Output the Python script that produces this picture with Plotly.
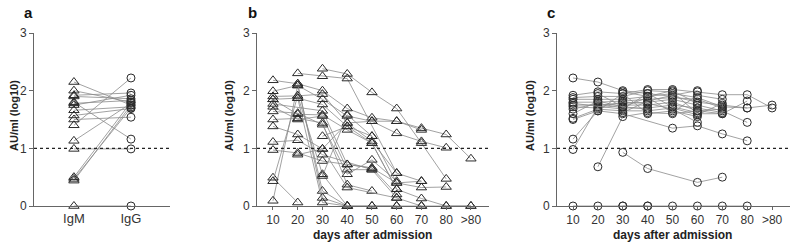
import plotly.graph_objects as go

N = None
# ---------- Panel a: IgM vs IgG pairs ----------
groups_a = ["IgM", "IgG"]
igm = [2.15, 2.00, 1.92, 1.90, 1.80, 1.78, 1.75, 1.66, 1.57, 1.50, 1.40, 1.13, 0.99, 0.50, 0.47, 0.44, 0.00]
igg = [1.75, 1.80, 1.96, 1.86, 1.16, 1.83, 1.92, 1.72, 1.69, 1.54, 2.22, 1.78, 0.99, 1.80, 1.70, 1.75, 0.00]

# ---------- Panel b / c: time courses ----------
days = ["10", "20", "30", "40", "50", "60", "70", "80", ">80"]
igm_series = [
    [2.18, 2.12, 2.00, 1.69, 1.53, 1.47, 1.35, 1.24, 0.82],
    [N, N, 2.38, 2.29, 1.97, 1.69, 1.09, 0.47, N],
    [N, 2.30, 2.25, 2.21, N, 0.57, 0.43, N, N],
    [1.99, 2.09, 1.85, 1.56, 1.47, 1.26, 1.12, 1.01, N],
    [1.90, 1.91, 1.94, 1.44, 1.12, 0.57, N, N, N],
    [1.85, 1.87, 1.76, 1.38, 1.21, 0.40, 0.32, 0.33, N],
    [1.85, 1.59, 1.58, 1.32, 1.09, 0.29, 0.13, 0.00, 0.00],
    [1.77, N, 1.65, 0.72, 0.66, 0.20, N, N, N],
    [1.72, 1.50, 1.56, 0.63, 0.63, 0.14, 0.00, N, N],
    [1.64, 1.61, 1.41, 0.55, 0.80, 0.43, N, N, N],
    [1.50, 1.52, 1.44, 0.37, 0.26, N, N, N, N],
    [1.38, 1.24, 0.99, 0.32, N, 0.14, N, N, N],
    [1.11, 1.14, 0.89, N, 0.63, N, N, N, N],
    [0.97, 0.92, 0.78, 0.72, 0.66, 0.40, 0.43, N, N],
    [0.09, 2.09, 0.26, 0.00, N, N, N, N, N],
    [0.49, 0.06, N, N, N, N, N, N, N],
    [0.43, 1.91, 0.55, 0.00, 0.00, 0.00, N, N, N],
    [N, 0.89, 0.99, 1.44, 1.47, 1.47, 1.32, N, N],
    [N, 2.12, 0.14, 0.00, N, N, N, N, N],
    [N, 1.87, 0.06, 0.00, 0.00, 0.00, 0.00, 0.00, 0.00],
    [N, N, 0.52, 1.58, 1.21, N, N, N, N],
    [N, N, 1.21, 1.38, 1.09, 0.29, N, N, N],
]
igg_series = [
    [2.22, 2.15, 2.00, 1.95, 1.90, 1.80, 1.75, 1.70, 1.75],
    [1.92, 1.98, 1.95, 2.02, 2.02, 1.98, 1.93, 1.93, 1.70],
    [1.88, 1.90, 1.90, 2.00, 1.98, 1.60, 1.60, 1.82, N],
    [1.85, 1.85, 1.85, 1.90, 1.95, 1.88, 1.72, 1.70, N],
    [1.80, 1.80, 1.82, 1.85, 1.88, 1.85, 1.70, N, N],
    [1.75, 1.75, 1.78, 1.80, 1.85, 1.75, 1.65, 1.45, N],
    [1.72, 1.70, 1.75, 1.75, 1.80, 1.65, 1.68, N, N],
    [1.68, 1.78, 1.70, 1.70, 1.75, 1.70, 1.62, N, N],
    [1.52, 1.68, 1.65, 1.65, 1.70, 1.58, 1.78, N, N],
    [1.50, 1.65, 1.95, 1.60, 1.65, 1.55, N, N, N],
    [1.16, 1.65, 1.60, N, 1.35, 1.39, 1.25, 1.13, N],
    [0.98, 1.72, 1.80, 1.78, 1.68, 1.45, N, N, N],
    [N, 0.68, 1.55, 1.62, 1.60, 1.65, 1.60, N, N],
    [N, N, 0.93, 0.65, N, 0.41, 0.50, N, N],
    [0.00, 0.00, 0.00, 0.00, 0.00, 0.00, 0.00, 0.00, N],
    [N, 1.95, 1.72, 1.88, 1.62, 1.92, 1.85, N, N],
    [1.78, N, 1.68, 1.95, 1.72, 1.62, N, N, N],
    [N, N, 1.98, 1.90, 2.00, 1.78, N, N, N],
    [N, N, 1.62, 1.82, 1.92, 2.00, N, N, N],
    [1.60, 1.82, 1.72, 1.68, N, N, N, N, N],
    [N, N, 0.00, 0.00, N, N, N, N, N],
]

yticks = [0, 1, 2, 3]
FONT = "Liberation Sans, Arial, sans-serif"
LINE_C = "#8a8a8a"
MK_C = "#2b2b2b"
AX_C = "#666666"

fig = go.Figure()

# Panel a
for m, g in zip(igm, igg):
    fig.add_trace(go.Scatter(x=[0, 1], y=[m, g], mode="lines",
                             line=dict(color=LINE_C, width=0.8),
                             xaxis="x", yaxis="y", showlegend=False, hoverinfo="skip"))
fig.add_trace(go.Scatter(x=[0] * len(igm), y=igm, mode="markers",
                         marker=dict(symbol="triangle-up-open", size=9, color=MK_C, line=dict(width=1)),
                         xaxis="x", yaxis="y", showlegend=False, cliponaxis=False))
fig.add_trace(go.Scatter(x=[1] * len(igg), y=igg, mode="markers",
                         marker=dict(symbol="circle-open", size=8, color=MK_C, line=dict(width=1)),
                         xaxis="x", yaxis="y", showlegend=False, cliponaxis=False))

xpos = list(range(1, len(days) + 1))


def add_series(series, sym, size, xa, ya):
    for s in series:
        xs = [x for x, v in zip(xpos, s) if v is not None]
        ys = [v for v in s if v is not None]
        fig.add_trace(go.Scatter(x=xs, y=ys, mode="lines+markers",
                                 line=dict(color=LINE_C, width=0.8),
                                 marker=dict(symbol=sym, size=size, color=MK_C, line=dict(width=1)),
                                 xaxis=xa, yaxis=ya, showlegend=False, cliponaxis=False))


add_series(igm_series, "triangle-up-open", 9, "x2", "y2")
add_series(igg_series, "circle-open", 8, "x3", "y3")

W, H = 791, 243
ydom = [(243 - 206) / H, (243 - 33) / H]

common_y = dict(range=[0, 3], tickvals=yticks, ticks="outside", ticklen=4, tickwidth=1,
                tickcolor=AX_C, showline=True, linecolor=AX_C, linewidth=1,
                showgrid=False, zeroline=False, domain=ydom, automargin=False,
                tickfont=dict(family=FONT, size=12, color="#333333"))
common_x = dict(showline=True, linecolor=AX_C, linewidth=1, showgrid=False, zeroline=False,
                automargin=False)

fig.update_layout(
    width=W, height=H, margin=dict(l=0, r=0, t=0, b=0, autoexpand=False),
    paper_bgcolor="white", plot_bgcolor="white",
    xaxis=dict(**common_x, domain=[34 / W, 170 / W], range=[-0.70, 1.684],
               tickvals=[0, 1], ticktext=groups_a, ticks="", anchor="y",
               tickfont=dict(family=FONT, size=13, color="#333333")),
    yaxis=dict(**common_y, anchor="x"),
    xaxis2=dict(**common_x, domain=[257 / W, 489 / W], range=[0.354, 9.73],
                tickvals=xpos, ticktext=days, ticks="outside", ticklen=3, tickcolor=AX_C, anchor="y2",
                tickfont=dict(family=FONT, size=12, color="#333333")),
    yaxis2=dict(**common_y, anchor="x2"),
    xaxis3=dict(**common_x, domain=[557 / W, 790 / W], range=[0.357, 9.72],
                tickvals=xpos, ticktext=days, ticks="outside", ticklen=3, tickcolor=AX_C, anchor="y3",
                tickfont=dict(family=FONT, size=12, color="#333333")),
    yaxis3=dict(**common_y, anchor="x3"),
)

# dashed threshold lines
for xr, yr in [("x", "y"), ("x2", "y2"), ("x3", "y3")]:
    fig.add_shape(type="line", xref=f"{xr} domain", yref=yr, x0=0, x1=1, y0=1, y1=1,
                  line=dict(color="#222222", width=1.2, dash="dot"))

ann = []
for lab, x in [("a", 28 / W), ("b", 252 / W), ("c", 551 / W)]:
    ann.append(dict(text=f"<b>{lab}</b>", x=x, y=1 - 12 / H, xref="paper", yref="paper",
                    showarrow=False, xanchor="center", yanchor="middle",
                    font=dict(family=FONT, size=15, color="#111111")))
for x in [14 / W, 229 / W, 530 / W]:
    ann.append(dict(text="<b>AU/ml (log10)</b>", x=x, y=1 - 116 / H, xref="paper", yref="paper",
                    textangle=-90, showarrow=False, xanchor="center", yanchor="middle",
                    font=dict(family=FONT, size=11, color="#222222")))
for x in [372 / W, 672 / W]:
    ann.append(dict(text="<b>days after admission</b>", x=x, y=1 - 235 / H, xref="paper", yref="paper",
                    showarrow=False, xanchor="center", yanchor="middle",
                    font=dict(family=FONT, size=12, color="#222222")))
fig.update_layout(annotations=ann)

fig.write_html("out.html")
